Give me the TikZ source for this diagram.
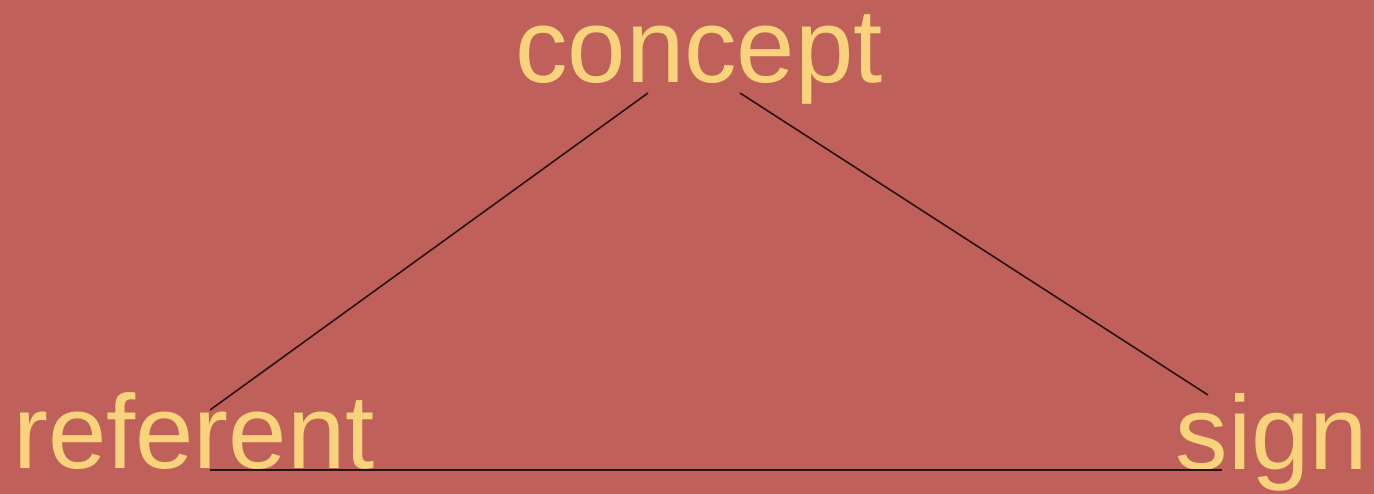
\documentclass[tikz,border=0pt]{standalone}
\usepackage{fontspec}
\setmainfont{Liberation Sans}
\usetikzlibrary{positioning,calc}
\definecolor{bgred}{HTML}{C0605A}
\definecolor{wordyellow}{HTML}{F8D37B}
\definecolor{linedark}{HTML}{2A1212}
\begin{document}
\begin{tikzpicture}[
        x=1pt, y=-1pt,
        word/.style={text=wordyellow, inner sep=0pt, anchor=base, font=\fontsize{105}{120}\selectfont},
        edge/.style={draw=linedark, line width=1.6pt}
    ]
        \fill[bgred] (0,0) rectangle (1374,494);
        \useasboundingbox (0,0) rectangle (1374,494);

        \node[word] (concept) at (699,83) {concept};
        \node[word] (referent) at (194,468) {referent};
        \node[word] (sign) at (1272,469) {sign};

        % line ends just off the words
        \coordinate (concept-l) at (648,93);
        \coordinate (concept-r) at (740,93);
        \coordinate (referent-t) at (210,410);
        \coordinate (referent-b) at (210,470);
        \coordinate (sign-t) at (1208,395);
        \coordinate (sign-b) at (1222,470);

        \draw[edge] (concept-l) -- (referent-t);
        \draw[edge] (concept-r) -- (sign-t);
        \draw[edge] (referent-b) -- (sign-b);
    \end{tikzpicture}
\end{document}
